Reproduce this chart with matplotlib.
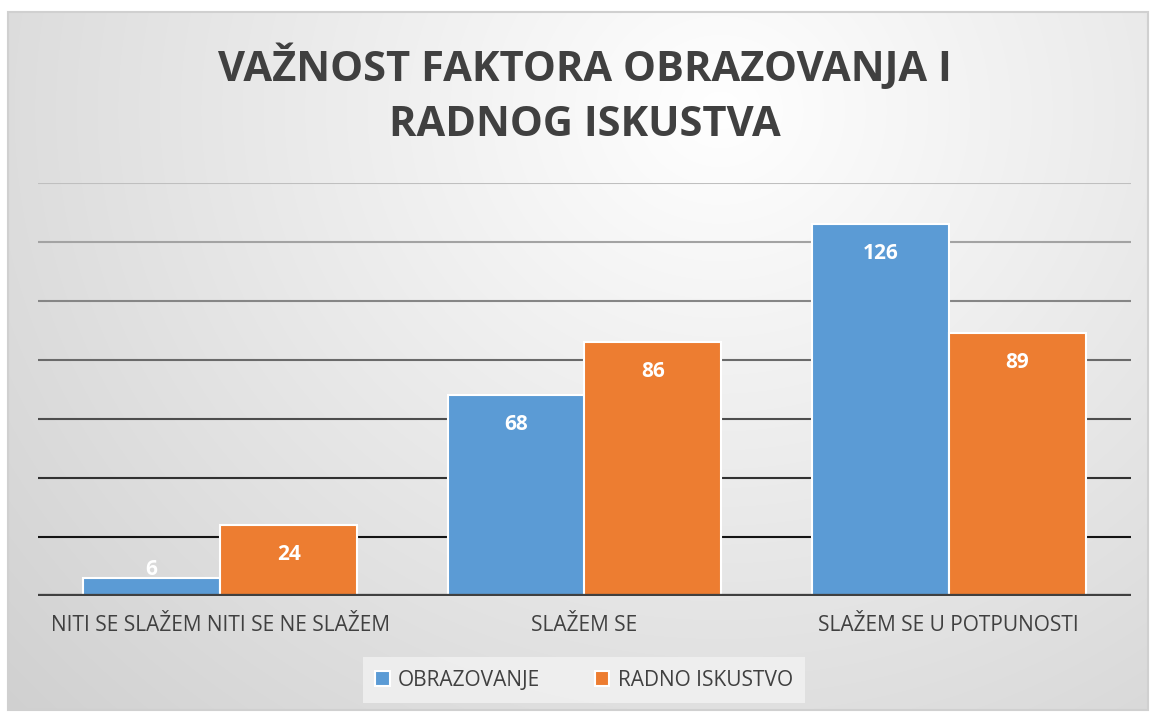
import matplotlib.pyplot as plt
import numpy as np
from matplotlib.patches import Rectangle

# data
categories = ['NITI SE SLAŽEM NITI SE NE SLAŽEM', 'SLAŽEM SE', 'SLAŽEM SE U POTPUNOSTI']
series_names = ['OBRAZOVANJE', 'RADNO ISKUSTVO']
obrazovanje = [6, 68, 126]
radno_iskustvo = [24, 86, 89]
title = 'VAŽNOST FAKTORA OBRAZOVANJA I\nRADNOG ISKUSTVA'

colors = ['#5b9bd5', '#ed7d31']
txt = '#404040'
W, H = 1150, 713

plt.rcParams['font.family'] = ['Open Sans', 'DejaVu Sans']
fig = plt.figure(figsize=(W / 100, H / 100), dpi=100, facecolor='white')

# background: radial gradient inside a light frame
bg = fig.add_axes([0, 0, 1, 1])
bg.set_xlim(0, W)
bg.set_ylim(H, 0)
bg.axis('off')
yy, xx = np.mgrid[12:710, 8:1148]
r = np.sqrt((xx - 720) ** 2 + ((yy - 110) * 1.1) ** 2) / 900
shade = 1.0 - 0.17 * np.clip(r, 0, 1.2)
bg.imshow(np.dstack([shade] * 3), extent=(8, 1148, 710, 12), aspect='auto', zorder=0)
bg.add_patch(Rectangle((8, 12), 1140, 698, fill=False, edgecolor='#d0d0d0', lw=1.5, zorder=1))

# main axes
ax = fig.add_axes([38 / W, (H - 596) / H, (1131 - 38) / W, (596 - 183) / H])
ax.patch.set_alpha(0)
ax.set_ylim(0, 140)
ax.set_xlim(-0.5, 2.5)
for s in ax.spines.values():
    s.set_visible(False)
ax.set_yticks([])

# gridlines fading from black (bottom) to grey (top)
for g in range(20, 141, 20):
    t = (g - 20) / 120
    c = (1 - t) * np.array([0.08, 0.08, 0.08]) + t * np.array([0.75, 0.75, 0.75])
    ax.axhline(g, color=c, lw=1.5, zorder=1)
ax.axhline(0, color='#404040', lw=3.8, zorder=4)

x = np.arange(len(categories))
w = 0.376
for i, vals in enumerate([obrazovanje, radno_iskustvo]):
    xs = x + (i - 0.5) * w
    ax.bar(xs, vals, width=w, color=colors[i], edgecolor='white', lw=1.5,
           label=series_names[i], zorder=3)
    for xi, v in zip(xs, vals):
        off = -21 if v > 15 else 6
        ax.annotate(str(v), (xi, v), xytext=(0, off), textcoords='offset points',
                    ha='center', va='center', color='white', fontsize=15,
                    fontweight='bold', zorder=5)

ax.set_xticks(x)
ax.set_xticklabels(categories, fontsize=15, color=txt)
ax.tick_params(axis='x', length=0, pad=14)

fig.text(585 / W, 1 - 95 / H, title, ha='center', va='center', fontsize=30,
         fontweight='bold', color=txt, linespacing=1.45)

leg = fig.legend(loc='center', bbox_to_anchor=(584 / W, 1 - 680 / H), ncol=2,
                 frameon=True, fontsize=15, handlelength=0.7, handleheight=0.7,
                 columnspacing=2.6, handletextpad=0.4, borderpad=0.6, fancybox=False)
leg.get_frame().set_facecolor('#f2f2f2')
leg.get_frame().set_edgecolor('none')
for t in leg.get_texts():
    t.set_color(txt)

fig.savefig('out.png', dpi=100, facecolor='white')
